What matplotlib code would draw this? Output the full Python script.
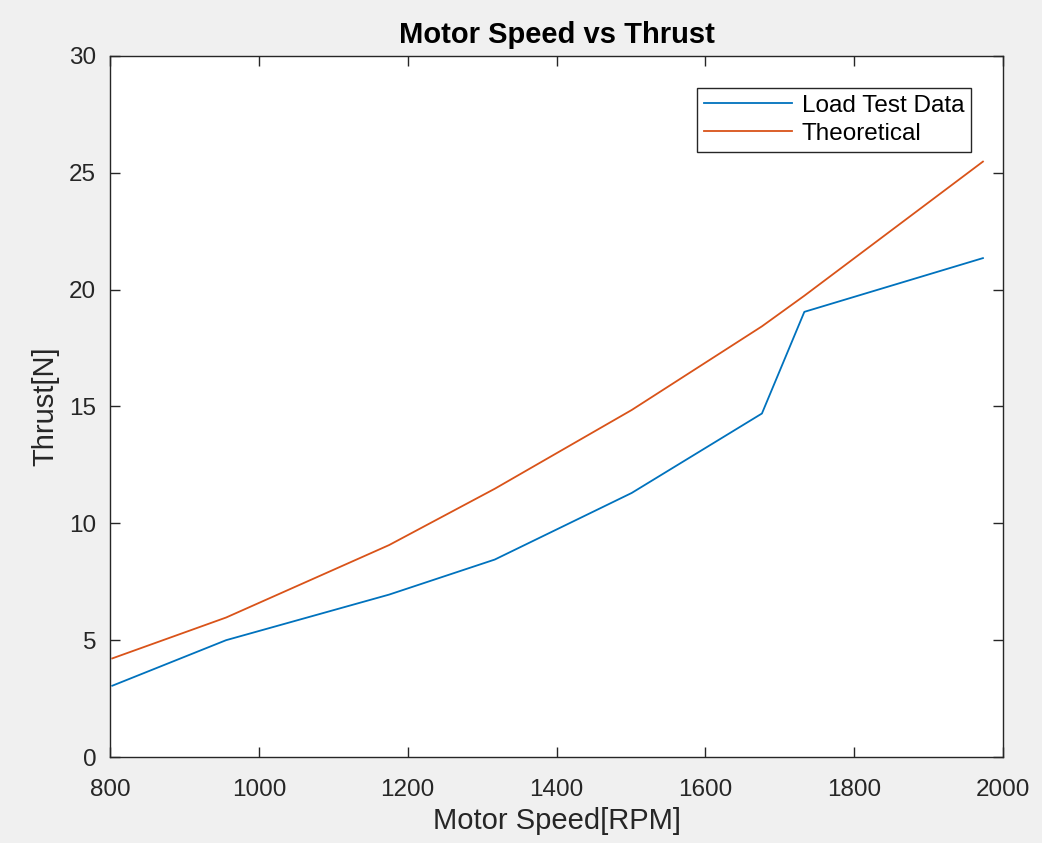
import matplotlib.pyplot as plt

plt.rcParams['font.family'] = ['Liberation Sans', 'DejaVu Sans']

# 读取的数据（从图上估计）
rpm = [803, 956, 1175, 1317, 1501, 1676, 1733, 1973]
load_test = [3.05, 5.0, 6.95, 8.45, 11.3, 14.7, 19.05, 21.35]
theoretical = [4.22, 5.97, 9.07, 11.48, 14.85, 18.43, 19.74, 25.48]

xticks = [800, 1000, 1200, 1400, 1600, 1800, 2000]
yticks = [0, 5, 10, 15, 20, 25, 30]

fig = plt.figure(figsize=(10.42, 8.43), dpi=100, facecolor='#f0f0f0')
ax = fig.add_axes([0.1056, 0.102, 0.857, 0.8316])
ax.set_facecolor('white')

ax.plot(rpm, load_test, color='#0072BD', lw=1.3, label='Load Test Data')
ax.plot(rpm, theoretical, color='#D95319', lw=1.3, label='Theoretical')

ax.set_xlim(800, 2000)
ax.set_ylim(0, 30)
ax.set_xticks(xticks)
ax.set_yticks(yticks)
ax.tick_params(direction='in', top=True, right=True, length=7, width=1,
               labelsize=17.5, colors='#262626')
ax.tick_params(axis='x', pad=16)
ax.tick_params(axis='y', pad=10)
for s in ax.spines.values():
    s.set_color('#262626')
    s.set_linewidth(1)

ax.set_title('Motor Speed vs Thrust', fontsize=21, fontweight='bold', pad=9)
ax.set_xlabel('Motor Speed[RPM]', fontsize=21, color='#262626', labelpad=4)
ax.set_ylabel('Thrust[N]', fontsize=21, color='#262626', labelpad=7)

leg = ax.legend(loc='upper right', fontsize=17.5, fancybox=False, framealpha=1,
                edgecolor='#262626', handlelength=3.6, handletextpad=0.4,
                borderaxespad=1.3, labelspacing=0.25, borderpad=0.3)
leg.get_frame().set_linewidth(1)

plt.savefig('out.png', dpi=100, facecolor=fig.get_facecolor())
